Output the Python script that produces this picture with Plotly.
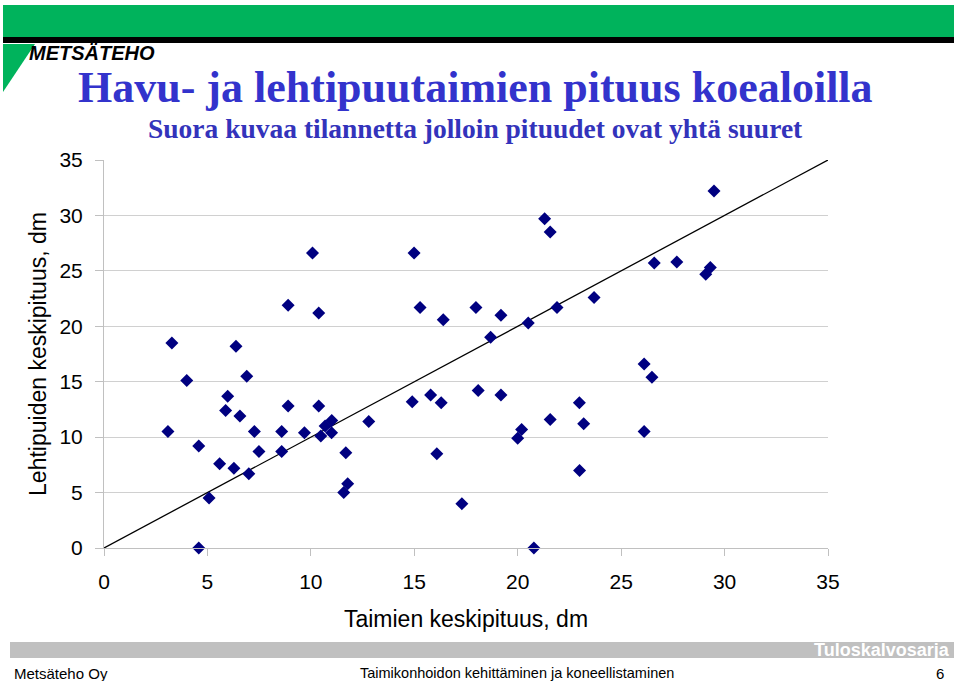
import plotly.graph_objects as go

# Data: taimien keskipituus (x, dm) vs lehtipuiden keskipituus (y, dm)
taimet_x = [3.09, 3.28, 4.00, 4.58, 4.58, 5.08, 5.59, 5.88, 5.98, 6.28,
            6.38, 6.57, 6.90, 7.00, 7.27, 7.49, 8.59, 8.59, 8.90, 8.90,
            9.69, 10.08, 10.38, 10.38, 10.48, 10.69, 11.01, 11.00, 11.69, 11.59,
            11.78, 12.80, 14.90, 14.99, 15.28, 15.79, 16.09, 16.30, 16.40, 17.30,
            17.98, 18.09, 18.69, 19.19, 19.19, 20.00, 20.19, 20.51, 20.78, 21.30,
            21.57, 21.57, 21.90, 22.98, 22.99, 23.19, 23.69, 26.11, 26.11, 26.49,
            26.60, 27.69, 29.09, 29.31, 29.49]
lehti_y = [10.5, 18.5, 15.1, 9.2, 0.0, 4.5, 7.6, 12.4, 13.7, 7.2,
           18.2, 11.9, 15.5, 6.7, 10.5, 8.7, 10.5, 8.7, 21.9, 12.8,
           10.4, 26.6, 21.2, 12.8, 10.1, 11.0, 11.5, 10.4, 8.6, 5.0,
           5.8, 11.4, 13.2, 26.6, 21.7, 13.8, 8.5, 13.1, 20.6, 4.0,
           21.7, 14.2, 19.0, 21.0, 13.8, 9.9, 10.7, 20.3, 0.0, 29.7,
           28.5, 11.6, 21.7, 13.1, 7.0, 11.2, 22.6, 16.6, 10.5, 15.4,
           25.7, 25.8, 24.7, 25.3, 32.2]
line_x = [0, 35]
line_y = [0, 35]
tick_vals = [0, 5, 10, 15, 20, 25, 30, 35]
tick_text = ["0", "5", "10", "15", "20", "25", "30", "35"]

title = "Havu- ja lehtipuutaimien pituus koealoilla"
subtitle = "Suora kuvaa tilannetta jolloin pituudet ovat yhtä suuret"
x_title = "Taimien keskipituus, dm"
y_title = "Lehtipuiden keskipituus, dm"

SANS = "Liberation Sans, Arial, sans-serif"
SERIF = "Liberation Serif, Times New Roman, serif"

fig = go.Figure()
fig.add_trace(go.Scatter(x=line_x, y=line_y, mode="lines",
                         line=dict(color="black", width=1.3),
                         hoverinfo="skip", showlegend=False, cliponaxis=False))
fig.add_trace(go.Scatter(x=taimet_x, y=lehti_y, mode="markers",
                         marker=dict(symbol="diamond", size=10, color="#000080",
                                     line=dict(width=0)),
                         showlegend=False, cliponaxis=False))

axis_font = dict(family=SANS, size=21, color="black")
title_font = dict(family=SANS, size=23, color="black")

fig.update_layout(
    width=959, height=681,
    margin=dict(l=104, r=131, t=160, b=133, autoexpand=False),
    paper_bgcolor="white", plot_bgcolor="white",
    xaxis=dict(range=[0, 35], tickvals=tick_vals, ticktext=tick_text,
               showgrid=False, zeroline=False, showline=True,
               linecolor="#c0c0c0", linewidth=1,
               ticks="outside", ticklen=7, tickcolor="#c0c0c0",
               tickfont=axis_font, ticklabelstandoff=8,
               title=dict(text=x_title, font=title_font, standoff=18)),
    yaxis=dict(range=[0, 35], tickvals=tick_vals, ticktext=tick_text,
               showgrid=True, gridcolor="#d0d0d0", gridwidth=1,
               zeroline=False, showline=True, linecolor="#c0c0c0", linewidth=1,
               ticks="outside", ticklen=8, tickcolor="#c0c0c0",
               tickfont=axis_font, ticklabelstandoff=8,
               title=dict(text=y_title, font=title_font, standoff=6)),
)


def to_paper(x, y):
    return (x - 104) / 724, (548 - y) / 388


def px_rect(x0, y0, x1, y1, color):
    a = to_paper(x0, y1)
    b = to_paper(x1, y0)
    fig.add_shape(type="rect", xref="paper", yref="paper",
                  x0=a[0], x1=b[0], y0=a[1], y1=b[1],
                  fillcolor=color, line=dict(width=0), layer="below")


# Header: green and black bars
px_rect(3, 5, 954, 37, "#00b35c")
px_rect(3, 37, 954, 43, "#000000")
# Footer grey bar
px_rect(10, 642, 954, 658, "#c0c0c0")

# Logo triangle
tx = [to_paper(3, 44), to_paper(35, 44), to_paper(3, 92)]
path = "M {} {} L {} {} L {} {} Z".format(tx[0][0], tx[0][1], tx[1][0], tx[1][1], tx[2][0], tx[2][1])
fig.add_shape(type="path", xref="paper", yref="paper", path=path,
              fillcolor="#00b35c", line=dict(width=0))


def add_text(x, y, text, size, color="black", family=SANS,
             xanchor="left", yanchor="middle", bold=False, italic=False):
    px, py = to_paper(x, y)
    t = text
    if bold:
        t = "<b>" + t + "</b>"
    if italic:
        t = "<i>" + t + "</i>"
    fig.add_annotation(x=px, y=py, xref="paper", yref="paper", text=t,
                       showarrow=False, xanchor=xanchor, yanchor=yanchor,
                       font=dict(size=size, color=color, family=family))


add_text(27, 53, "METSÄTEHO", 20, bold=True, italic=True)
add_text(475, 87, title, 44, color="#3333cc", family=SERIF, xanchor="center", bold=True)
add_text(475, 128, subtitle, 27.5, color="#3333bb", family=SERIF, xanchor="center", bold=True)

add_text(952, 650, "Tuloskalvosarja", 18, color="white", xanchor="right", bold=True)
add_text(12, 673, "Metsäteho Oy", 15)
add_text(517, 673, "Taimikonhoidon kehittäminen ja koneellistaminen", 14.5, xanchor="center")
add_text(946, 673, "6", 15, xanchor="right")

fig.write_html("out.html")
